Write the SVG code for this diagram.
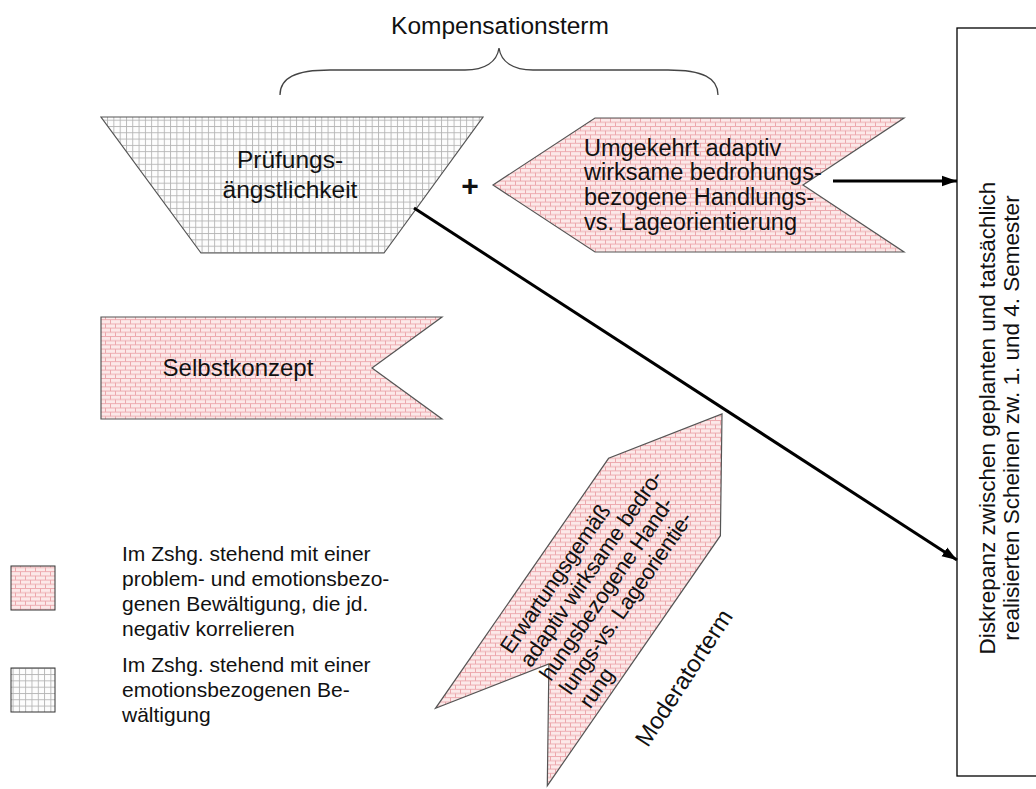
<svg xmlns="http://www.w3.org/2000/svg" width="1036" height="789" viewBox="0 0 1036 789">
  <style>
    text { font-family: "Liberation Sans", Arial, sans-serif; fill: #111; }
    .shape { stroke: #555; stroke-width: 1.2; }
    .brick { fill: url(#brick); }
    .grid { fill: url(#grid); }
    .conn { stroke: #000; stroke-width: 3; fill: none; marker-end: url(#arrow); }
  </style>
  <defs>
    <!-- pink brick hatch -->
    <pattern id="brick" patternUnits="userSpaceOnUse" width="10" height="8.4">
      <rect width="10" height="8.4" fill="#fce9e9"/>
      <path d="M0,0.5 H10 M0,4.7 H10 M0.5,0.5 V4.7 M5.5,4.7 V8.4" stroke="#eba3a8" stroke-width="0.9" fill="none"/>
    </pattern>
    <!-- grey square grid -->
    <pattern id="grid" patternUnits="userSpaceOnUse" width="6.3" height="6.3">
      <rect width="6.3" height="6.3" fill="#fdfdfd"/>
      <path d="M0,0.5 H6.3 M0.5,0 V6.3" stroke="#b5b5b5" stroke-width="0.9" fill="none"/>
    </pattern>
    <marker id="arrow" markerUnits="userSpaceOnUse" markerWidth="16" markerHeight="12" refX="15" refY="6" orient="auto">
      <path d="M0,0.8 L15,6 L0,11.2 Z" fill="#000"/>
    </marker>
  </defs>

  <!-- brace heading -->
  <g id="kompensationsterm">
    <text x="500" y="34" font-size="24.5" text-anchor="middle">Kompensationsterm</text>
    <path d="M280,95 C280,78 295,70 330,70 L465,70 C485,70 497,62 499,48 C501,62 513,70 533,70 L668,70 C703,70 718,78 718,95" fill="none" stroke="#444" stroke-width="1.3"/>
  </g>

  <g id="pruefungsangst">
    <polygon class="shape grid" points="101,117 483,117 384,253 201,253"/>
    <text x="290" y="168" font-size="24.5" text-anchor="middle">Prüfungs-</text>
    <text x="290" y="198" font-size="24.5" text-anchor="middle">ängstlichkeit</text>
  </g>

  <g id="plus">
    <text x="470" y="196" font-size="30" font-weight="bold" text-anchor="middle">+</text>
  </g>

  <g id="handlungsorientierung">
    <polygon class="shape brick" points="493,185 595,118 904,118 803,185 904,252 595,252"/>
    <text font-size="23.5">
      <tspan x="584" y="156">Umgekehrt adaptiv</tspan>
      <tspan x="584" y="180">wirksame bedrohungs-</tspan>
      <tspan x="584" y="205">bezogene Handlungs-</tspan>
      <tspan x="584" y="230">vs. Lageorientierung</tspan>
    </text>
  </g>

  <g id="selbstkonzept">
    <polygon class="shape brick" points="101,317 442,317 372,368 442,419 101,419"/>
    <text x="238" y="376" font-size="24" text-anchor="middle">Selbstkonzept</text>
  </g>

  <g id="moderator">
    <polygon class="shape brick" points="722,414 720.4,535.7 547.3,785.7 548.9,663.9 435.5,708.3 608.6,458.3"/>
    <text transform="translate(722,414) rotate(-55.3)" font-size="22" letter-spacing="-0.3">
      <tspan x="-318" y="-36">Erwartungsgemäß</tspan>
      <tspan x="-318" y="-12">adaptiv wirksame bedro-</tspan>
      <tspan x="-318" y="12">hungsbezogene Hand-</tspan>
      <tspan x="-318" y="36">lungs-vs. Lageorientie-</tspan>
      <tspan x="-318" y="60">rung</tspan>
    </text>
    <text transform="translate(684,678) rotate(-57)" font-size="24" text-anchor="middle" y="8">Moderatorterm</text>
  </g>

  <g id="diskrepanz">
    <rect x="957" y="28" width="90" height="748" fill="#fff" stroke="#000" stroke-width="1.3"/>
    <text transform="translate(995,418) rotate(-90)" font-size="22.5" text-anchor="middle">Diskrepanz zwischen geplanten und tatsächlich</text>
    <text transform="translate(1019,418) rotate(-90)" font-size="22.5" text-anchor="middle">realisierten Scheinen zw. 1. und 4. Semester</text>
  </g>

  <g id="legende">
    <rect class="brick" x="11" y="566" width="44" height="44" stroke="#333" stroke-width="1"/>
    <text font-size="21">
      <tspan x="122" y="561">Im Zshg. stehend mit einer</tspan>
      <tspan x="122" y="586">problem- und emotionsbezo-</tspan>
      <tspan x="122" y="611">genen Bewältigung, die jd.</tspan>
      <tspan x="122" y="636">negativ korrelieren</tspan>
    </text>
    <rect class="grid" x="11" y="668" width="44" height="44" stroke="#333" stroke-width="1"/>
    <text font-size="21">
      <tspan x="122" y="672">Im Zshg. stehend mit einer</tspan>
      <tspan x="122" y="697">emotionsbezogenen Be-</tspan>
      <tspan x="122" y="722">wältigung</tspan>
    </text>
  </g>

  <g id="connectors">
    <line class="conn" x1="414" y1="208" x2="957" y2="560"/>
    <line class="conn" x1="833" y1="181" x2="957" y2="181"/>
  </g>
</svg>
